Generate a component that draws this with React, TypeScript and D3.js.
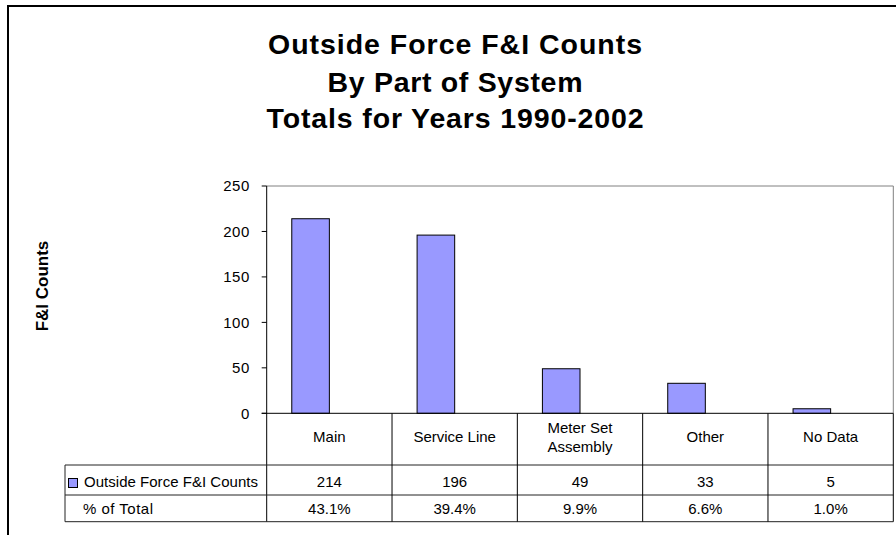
import React from "react";
import * as d3 from "d3";

const categories = ["Main", "Service Line", "Meter Set Assembly", "Other", "No Data"];
const categoryLines = [["Main"], ["Service Line"], ["Meter Set", "Assembly"], ["Other"], ["No Data"]];
const seriesNames = ["Outside Force F&I Counts", "% of Total"];
const counts = [214, 196, 49, 33, 5];
const percents = [43.1, 39.4, 9.9, 6.6, 1.0];
const yTicks = [0, 50, 100, 150, 200, 250];
const titleLines = ["Outside Force F&I Counts", "By Part of System", "Totals for Years 1990-2002"];
const yLabel = "F&I Counts";

const W = 896;
const H = 535;
const FONT = "'Liberation Sans', Arial, Helvetica, sans-serif";

export default function App() {
  const plotL = 266.7;
  const plotR = 893.3;
  const plotT = 186;
  const plotB = 413.3;
  const tableL = 65;
  const row1B = 465;
  const row2B = 495;
  const row3B = 521.7;

  const x = d3.scaleBand<string>().domain(categories).range([plotL, plotR]).paddingInner(0).paddingOuter(0);
  const bw = x.bandwidth();
  const xs = d3.scaleBand<string>().domain(seriesNames).range([0, bw]).paddingInner(0).paddingOuter(0.667);
  const y = d3.scaleLinear().domain([0, 250]).range([plotB, plotT]);

  const titleW = [374, 255, 377];
  const titleY = [54, 92, 128];

  return (
    <svg
      width={W}
      height={H}
      style={{ position: "absolute", left: 0, top: 0, background: "#fff" }}
      fontFamily={FONT}
    >
      <rect x={0} y={0} width={W} height={H} fill="#fff" />
      <rect x={8} y={6} width={W + 20} height={H + 20} fill="none" stroke="#000" strokeWidth={2} />

      {titleLines.map((t, i) => (
        <text
          key={i}
          x={455}
          y={titleY[i]}
          textAnchor="middle"
          fontSize={28.5}
          fontWeight="bold"
          textLength={titleW[i]}
          lengthAdjust="spacing"
          fill="#000"
        >
          {t}
        </text>
      ))}

      <text
        transform={`translate(48,286) rotate(-90)`}
        textAnchor="middle"
        fontSize={17}
        fontWeight="bold"
        fill="#000"
      >
        {yLabel}
      </text>

      <line x1={plotL} x2={plotR} y1={plotT} y2={plotT} stroke="#808080" strokeWidth={1} />
      <line x1={plotR} x2={plotR} y1={plotT} y2={plotB} stroke="#808080" strokeWidth={1} />

      {categories.map((c, i) => (
        <rect
          key={c}
          x={(x(c) as number) + (xs(seriesNames[0]) as number)}
          y={y(counts[i])}
          width={xs.bandwidth()}
          height={plotB - y(counts[i])}
          fill="#9999FF"
          stroke="#000"
          strokeWidth={1}
        />
      ))}

      <line x1={plotL} x2={plotL} y1={plotT} y2={row3B} stroke="#000" strokeWidth={1} />
      {yTicks.map((t) => (
        <g key={t}>
          <line x1={plotL - 5} x2={plotL} y1={y(t)} y2={y(t)} stroke="#000" strokeWidth={1} />
          <text
            x={250}
            y={y(t)}
            dy="0.36em"
            textAnchor="end"
            fontSize={15}
            letterSpacing={0.6}
            fill="#000"
          >
            {t}
          </text>
        </g>
      ))}

      <line x1={plotL - 5} x2={plotR} y1={plotB} y2={plotB} stroke="#000" strokeWidth={1} />

      <line x1={tableL} x2={plotR} y1={row1B} y2={row1B} stroke="#222" strokeWidth={1} />
      <line x1={tableL} x2={plotR} y1={row2B} y2={row2B} stroke="#222" strokeWidth={1} />
      <line x1={tableL} x2={plotR} y1={row3B} y2={row3B} stroke="#222" strokeWidth={1} />
      <line x1={tableL} x2={tableL} y1={row1B} y2={row3B} stroke="#222" strokeWidth={1} />
      {categories.map((c) => (
        <line
          key={"v" + c}
          x1={(x(c) as number) + bw}
          x2={(x(c) as number) + bw}
          y1={plotB}
          y2={row3B}
          stroke="#000"
          strokeWidth={1}
        />
      ))}

      {categories.map((c, i) => {
        const lines = categoryLines[i];
        const cx = (x(c) as number) + bw / 2;
        const base = lines.length === 1 ? [442] : [433, 452];
        return lines.map((ln, j) => (
          <text key={c + j} x={cx} y={base[j]} textAnchor="middle" fontSize={15} fill="#000">
            {ln}
          </text>
        ));
      })}

      <rect x={68.5} y={478.5} width={9} height={9} fill="#9999FF" stroke="#000" strokeWidth={1} />
      <text x={84} y={487} fontSize={15} fill="#000" textLength={174} lengthAdjust="spacing">
        {seriesNames[0]}
      </text>
      <text x={83} y={514} fontSize={15} fill="#000" textLength={70} lengthAdjust="spacing">
        {seriesNames[1]}
      </text>

      {categories.map((c, i) => {
        const cx = (x(c) as number) + bw / 2;
        return (
          <g key={"val" + c}>
            <text x={cx} y={487} textAnchor="middle" fontSize={15} fill="#000">
              {counts[i]}
            </text>
            <text x={cx} y={514} textAnchor="middle" fontSize={15} fill="#000">
              {percents[i].toFixed(1) + "%"}
            </text>
          </g>
        );
      })}
    </svg>
  );
}
